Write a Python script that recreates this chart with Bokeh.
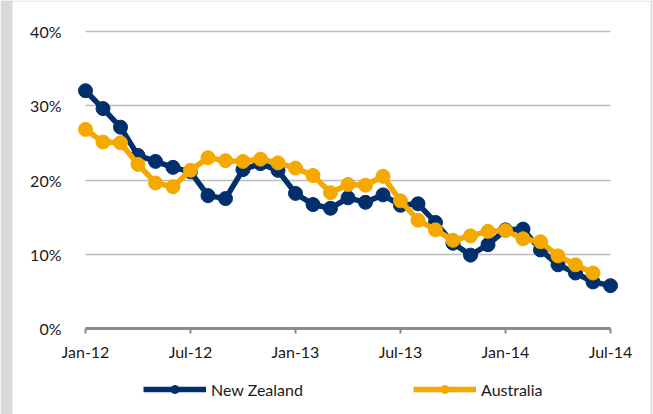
from bokeh.plotting import figure
from bokeh.models import (Legend, LegendItem, FixedTicker, Range1d, PrintfTickFormatter,
                          BoxAnnotation, Span)
from bokeh.embed import file_html
from bokeh.resources import INLINE

# ---- data (percent), monthly from Jan-12 ----
months = list(range(31))
nz = [32.0, 29.6, 27.1, 23.3, 22.5, 21.7, 21.1, 17.9, 17.5, 21.4, 22.2, 21.3,
      18.2, 16.7, 16.2, 17.6, 17.0, 18.0, 16.6, 16.8, 14.3, 11.5, 9.9, 11.3,
      13.3, 13.4, 10.6, 8.6, 7.5, 6.3, 5.8]
aus = [26.8, 25.1, 25.0, 22.1, 19.6, 19.1, 21.3, 23.0, 22.6, 22.5, 22.8, 22.3,
       21.6, 20.6, 18.3, 19.4, 19.3, 20.5, 17.2, 14.6, 13.3, 11.9, 12.5, 13.1,
       13.2, 12.1, 11.7, 9.8, 8.6, 7.5]
tick_months = [0, 6, 12, 18, 24, 30]
tick_labels = ["Jan-12", "Jul-12", "Jan-13", "Jul-13", "Jan-14", "Jul-14"]
y_ticks = [0, 10, 20, 30, 40]

NAVY = "#002f6c"
GOLD = "#f5a900"
FONT = "Lato"
TXT = "#1a1a1a"

# layout (pixels): the frame fills the whole canvas, axes are pinned at 0
W, H = 653, 414
X0, PX_M = 85.0, 17.5      # pixel x of month 0, pixels per month
Y0, PX_P = 328.3, 7.44     # pixel y of 0 %, pixels per percentage point

p = figure(width=W, height=H, output_backend="svg", toolbar_location=None,
           x_range=Range1d(-X0 / PX_M, (W - X0) / PX_M),
           y_range=Range1d((Y0 - H) / PX_P, Y0 / PX_P),
           min_border=0, min_border_left=0, min_border_right=0,
           min_border_top=0, min_border_bottom=0,
           background_fill_color="white", border_fill_color="white", outline_line_color=None)

# frame decoration of the original (grey strip at left, thin borders)
p.add_layout(BoxAnnotation(right=(12 - X0) / PX_M, fill_color="#d9d9d9", fill_alpha=1,
                           line_color=None, level="underlay"))
p.add_layout(Span(location=Y0 / PX_P - 0.5 / PX_P, dimension="width",
                  line_color="#d9d9d9", line_width=1, level="underlay"))
p.add_layout(Span(location=(651 - X0) / PX_M, dimension="height",
                  line_color="#d9d9d9", line_width=1.5, level="underlay"))

p.xgrid.grid_line_color = None
p.ygrid.grid_line_color = "#bdbdbd"
p.ygrid.grid_line_width = 1.5
p.ygrid.ticker = FixedTicker(ticks=y_ticks)
p.ygrid.bounds = (y_ticks[0], y_ticks[-1])
p.ygrid.cross_bounds = (tick_months[0], tick_months[-1])

p.xaxis.fixed_location = 0
p.xaxis.bounds = (tick_months[0], tick_months[-1])
p.xaxis.ticker = FixedTicker(ticks=tick_months)
p.xaxis.major_label_overrides = {m: l for m, l in zip(tick_months, tick_labels)}
p.xaxis.axis_line_color = "#8c8c8c"
p.xaxis.axis_line_width = 3
p.xaxis.major_tick_line_color = "#8c8c8c"
p.xaxis.major_tick_line_width = 2
p.xaxis.major_tick_out = 5
p.xaxis.major_tick_in = 0
p.xaxis.minor_tick_line_color = None
p.xaxis.major_label_standoff = 8
p.xaxis.major_label_text_font = FONT
p.xaxis.major_label_text_font_size = "16px"
p.xaxis.major_label_text_color = TXT

p.yaxis.fixed_location = 0
p.yaxis.bounds = (y_ticks[0], y_ticks[-1])
p.yaxis.ticker = FixedTicker(ticks=y_ticks)
p.yaxis.formatter = PrintfTickFormatter(format="%d%%")
p.yaxis.axis_line_color = None
p.yaxis.major_tick_line_color = None
p.yaxis.minor_tick_line_color = None
p.yaxis.major_label_standoff = 18
p.yaxis.major_label_text_font = FONT
p.yaxis.major_label_text_font_size = "16px"
p.yaxis.major_label_text_color = TXT

nz_line = p.line(months, nz, line_color=NAVY, line_width=5.5)
nz_pts = p.scatter(months, nz, size=14, fill_color=NAVY, line_color=NAVY)
au_line = p.line(months[:len(aus)], aus, line_color=GOLD, line_width=5.5)
au_pts = p.scatter(months[:len(aus)], aus, size=14, fill_color=GOLD, line_color=GOLD)

common = dict(orientation="horizontal", glyph_width=63, glyph_height=20, label_height=20,
              label_standoff=5, label_text_font=FONT, label_text_font_size="16px",
              label_text_color=TXT, border_line_color=None, background_fill_alpha=0,
              margin=0, padding=0)
leg_nz = Legend(items=[LegendItem(label="New Zealand", renderers=[nz_line, nz_pts])],
                location=(143, 15), **common)
leg_au = Legend(items=[LegendItem(label="Australia", renderers=[au_line, au_pts])],
                location=(413, 15), **common)
p.add_layout(leg_nz, "center")
p.add_layout(leg_au, "center")

open("out.html", "w").write(file_html(p, INLINE))
